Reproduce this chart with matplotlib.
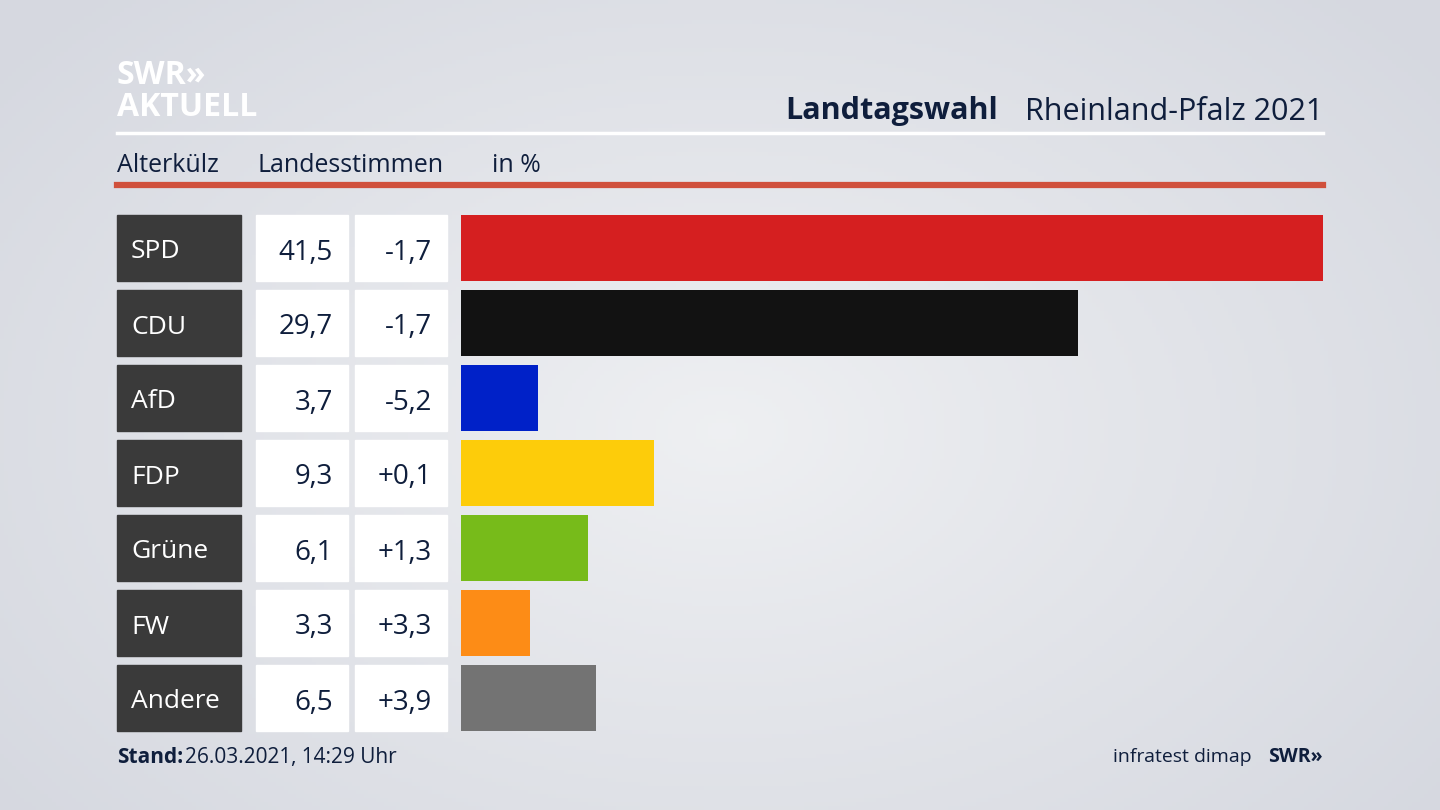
import numpy as np
import matplotlib
matplotlib.use("Agg")
import matplotlib.pyplot as plt
from matplotlib.patches import Rectangle

parties = ["SPD", "CDU", "AfD", "FDP", "Grüne", "FW", "Andere"]
shares = [41.5, 29.7, 3.7, 9.3, 6.1, 3.3, 6.5]
changes = ["-1,7", "-1,7", "-5,2", "+0,1", "+1,3", "+3,3", "+3,9"]
colors = ["#d51f20", "#121212", "#0021c8", "#fdcc0a", "#77bb1a", "#fd8c16", "#737373"]

W, H = 1440, 810
fig = plt.figure(figsize=(14.4, 8.1), dpi=100)
bg = fig.add_axes([0, 0, 1, 1])
yy, xx = np.mgrid[0:H:4, 0:W:4]
r = np.sqrt(((xx - 720) / 900) ** 2 + ((yy - 430) / 600) ** 2)
img = np.clip(1 - r, 0, 1)
c0 = np.array([0.84, 0.85, 0.88]); c1 = np.array([0.935, 0.94, 0.95])
rgb = c0 + (c1 - c0) * img[..., None]
bg.imshow(rgb, extent=[0, W, H, 0], aspect="auto")
bg.set_xlim(0, W); bg.set_ylim(H, 0); bg.axis("off")

F = "Open Sans"
navy = "#0f1e3c"
VA = "center_baseline"
bg.text(117, 72, "SWR»", fontsize=23, fontweight="bold", color="white", family=F, va=VA)
bg.text(117, 104, "AKTUELL", fontsize=23, fontweight="bold", color="white", family=F, va=VA)
bg.text(785, 108, "Landtagswahl", fontsize=22, fontweight="bold", color=navy, family=F, ha="left", va=VA)
bg.text(1323, 108, "Rheinland-Pfalz 2021", fontsize=22, color=navy, family=F, ha="right", va=VA)
bg.plot([117, 1323], [133, 133], color="white", lw=2.5)
bg.text(117, 162, "Alterkülz", fontsize=18, color=navy, family=F, va=VA)
bg.text(258, 162, "Landesstimmen", fontsize=18, color=navy, family=F, va=VA)
bg.text(492, 162, "in %", fontsize=18, color=navy, family=F, va=VA)
bg.plot([117, 1323], [185, 185], color="#d0503c", lw=4.5)

for i, (p, s, c) in enumerate(zip(parties, shares, changes)):
    yc = 248 + 75 * i
    bg.add_patch(Rectangle((117, yc - 33), 124, 66, color="#3a3a3a"))
    bg.add_patch(Rectangle((256, yc - 33), 92, 66, color="white"))
    bg.add_patch(Rectangle((355, yc - 33), 92, 66, color="white"))
    bg.text(131, yc + 1, p, fontsize=19, color="white", family=F, va=VA)
    bg.text(333, yc + 1, f"{s:.1f}".replace(".", ","), fontsize=20, color=navy, family=F, va=VA, ha="right")
    bg.text(432, yc + 1, c, fontsize=20, color=navy, family=F, va=VA, ha="right")

ax = fig.add_axes([461 / W, 1 - 731 / H, (1323 - 461) / W, (731 - 215) / H])
ax.barh(range(len(parties)), shares, height=66 / 75, color=colors)
ax.set_xlim(0, max(shares)); ax.set_ylim(6 + 33 / 75, -33 / 75)
ax.axis("off"); ax.patch.set_alpha(0)

bg.text(117, 755, "Stand:", fontsize=15, fontweight="bold", color=navy, family=F, va=VA)
bg.text(185, 755, "26.03.2021, 14:29 Uhr", fontsize=15, color=navy, family=F, va=VA)
bg.text(1252, 755, "infratest dimap", fontsize=14, color=navy, family=F, va=VA, ha="right")
bg.text(1323, 755, "SWR»", fontsize=14, fontweight="bold", color=navy, family=F, va=VA, ha="right")
fig.savefig("out.png", dpi=100)
